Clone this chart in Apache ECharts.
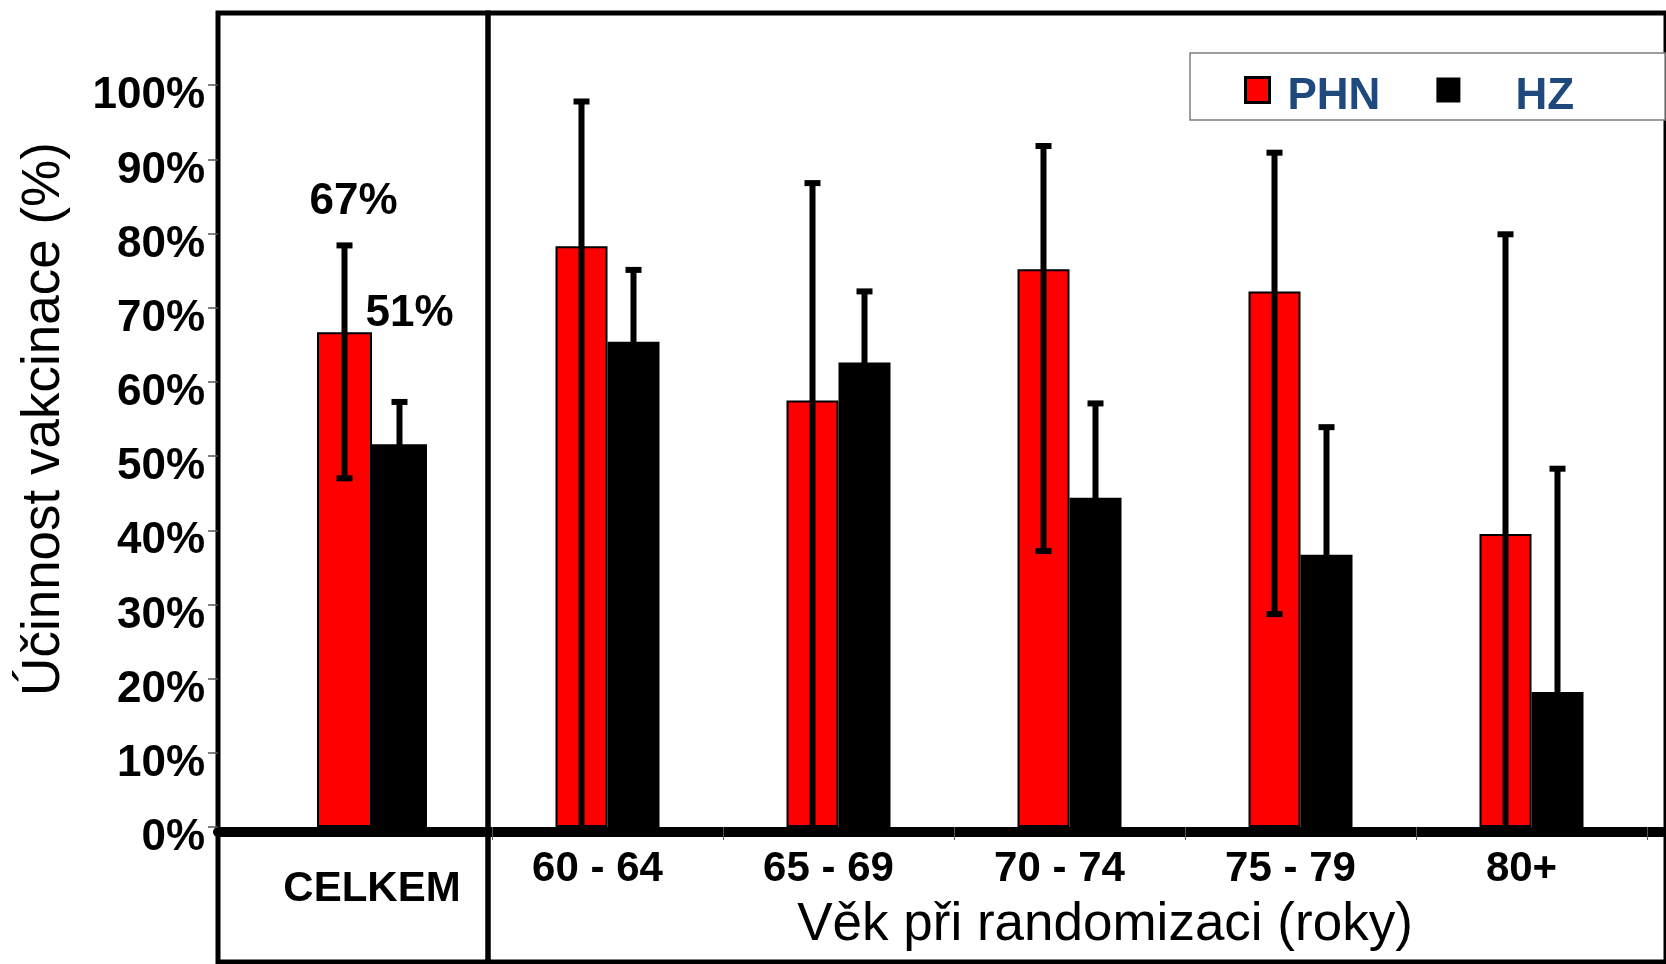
<!DOCTYPE html>
<html>
<head>
<meta charset="utf-8">
<script src="https://cdn.jsdelivr.net/npm/echarts@6/dist/echarts.min.js"></script>
<style>
html,body{margin:0;padding:0;background:#fff;}
#chart{width:1666px;height:964px;}
</style>
</head>
<body>
<div id="chart"></div>
<script>
// ---- data ----
const ageCategories = ['60 - 64', '65 - 69', '70 - 74', '75 - 79', '80+'];
const overallCategory = ['CELKEM'];

const phnByAge     = [78.3, 57.5, 75.2, 72.2, 39.5];
const phnHighByAge = [97.8, 86.8, 91.8, 90.9, 79.9];
const phnLowByAge  = [-25, -30, 37.2, 28.7, -30];

const hzByAge      = [65.4, 62.6, 44.4, 36.7, 18.2];
const hzHighByAge  = [75.1, 72.2, 57.1, 53.9, 48.3];
const hzLowByAge   = [55, 52, 30, 18, -15];

const phnOverall     = [66.7];
const phnHighOverall = [78.4];
const phnLowOverall  = [47.0];
const hzOverall      = [51.6];
const hzHighOverall  = [57.3];
const hzLowOverall   = [44.2];

const phnOverallLabel = ['67%'];
const hzOverallLabel  = ['51%'];

const yTickLabels = ['0%', '10%', '20%', '30%', '40%', '50%', '60%', '70%', '80%', '90%', '100%'];
const yTickValues = [0, 10, 20, 30, 40, 50, 60, 70, 80, 90, 100];

// ---- helpers ----
const FONT = '"Liberation Sans", Arial, sans-serif';
const RED = '#FF0000';
const BLACK = '#000000';

function errTriples(low, high) {
  return low.map((l, i) => [i, l, high[i]]);
}

function errorBars(side, halfWidth) {
  return function (params, api) {
    const c = api.value(0), lo = api.value(1), hi = api.value(2);
    const pHi = api.coord([c, hi]);
    const pLo = api.coord([c, lo]);
    const x = pHi[0] + side * halfWidth;
    const children = [
      { type: 'line', shape: { x1: x, y1: pHi[1], x2: x, y2: pLo[1] }, style: { stroke: '#000', lineWidth: 6 } },
      { type: 'rect', shape: { x: x - 8, y: pHi[1] - 3, width: 16, height: 6 }, style: { fill: '#000' } }
    ];
    if (lo > 0) {
      children.push({ type: 'rect', shape: { x: x - 8, y: pLo[1] - 3, width: 16, height: 6 }, style: { fill: '#000' } });
    }
    return { type: 'group', children: children };
  };
}

const hiddenAxis = (g) => ({ gridIndex: g, show: false });

const valueAxisHidden = (g) => ({
  gridIndex: g, type: 'value', min: 0, max: 110, interval: 10, show: false
});

const chart = echarts.init(document.getElementById('chart'), null, { renderer: 'canvas' });

const option = {
  backgroundColor: '#ffffff',
  animation: false,
  textStyle: { fontFamily: FONT },
  legend: {
    left: 1190, top: 53,
    orient: 'horizontal',
    backgroundColor: '#ffffff',
    borderColor: '#7f7f7f',
    borderWidth: 1.5,
    borderRadius: 0,
    padding: [8.5, 91, 1.5, 54],
    itemWidth: 24,
    itemHeight: 25,
    itemGap: 56,
    icon: 'rect',
    formatter: (name) => '{gap| }\n{t|' + name + '}',
    textStyle: {
      fontFamily: FONT, fontSize: 44, fontWeight: 'bold', color: '#1F497D', lineHeight: 44,
      rich: {
        gap: { fontSize: 1, lineHeight: 13 },
        t: { fontFamily: FONT, fontSize: 44, fontWeight: 'bold', color: '#1F497D', lineHeight: 44 }
      }
    },
    data: [
      { name: 'PHN', itemStyle: { color: RED, borderColor: '#000', borderWidth: 3 }, textStyle: { padding: [0, 0, 0, 13] } },
      { name: 'HZ', itemStyle: { color: BLACK, borderWidth: 0 }, textStyle: { padding: [0, 0, 0, 50] } }
    ]
  },
  grid: [
    { left: 218, top: 11, width: 1500, height: 816 },                 // axis grid
    { left: 256, top: 11, width: 232, height: 816 },                  // CELKEM
    { left: 492, top: 11, width: 1155, height: 816 },                 // age groups
    { left: 218, top: 13, width: 270, height: 949, show: true, borderColor: '#000', borderWidth: 5, backgroundColor: 'transparent' },
    { left: 488, top: 13, width: 1260, height: 949, show: true, borderColor: '#000', borderWidth: 5, backgroundColor: 'transparent' }
  ],
  xAxis: [
    {
      gridIndex: 0, type: 'category', data: [''], offset: 5,
      axisLine: { show: true, onZero: false, lineStyle: { color: '#000', width: 10 } },
      axisTick: { show: false }, axisLabel: { show: false }
    },
    {
      gridIndex: 1, type: 'category', data: overallCategory,
      axisLine: { show: false, onZero: false }, axisTick: { show: false },
      axisLabel: { fontFamily: FONT, fontSize: 42, fontWeight: 'bold', color: '#000', margin: 41, lineHeight: 42 }
    },
    {
      gridIndex: 2, type: 'category', data: ageCategories,
      axisLine: { show: false, onZero: false },
      axisTick: { show: true, length: 13, lineStyle: { color: '#555', width: 1 } },
      axisLabel: { fontFamily: FONT, fontSize: 42, fontWeight: 'bold', color: '#000', margin: 21, lineHeight: 42, padding: [0, 20, 0, 0] },
      name: 'Věk při randomizaci (roky)',
      nameLocation: 'middle',
      nameGap: 72,
      nameTextStyle: { fontFamily: FONT, fontSize: 53, color: '#000', lineHeight: 53, padding: [0, 0, 0, 71] }
    },
    hiddenAxis(3),
    hiddenAxis(4)
  ],
  yAxis: [
    {
      gridIndex: 0, type: 'value', min: 0, max: 110, interval: 10,
      axisLine: { show: false },
      splitLine: { show: false },
      axisTick: { show: true, length: 10, customValues: yTickValues, lineStyle: { color: '#555', width: 1.5 } },
      axisLabel: {
        customValues: yTickValues,
        fontFamily: FONT, fontSize: 44, fontWeight: 'bold', color: '#000', margin: 13,
        verticalAlign: 'top', lineHeight: 22,
        formatter: (v) => { const i = Math.round(v / 10); return i < yTickLabels.length ? yTickLabels[i] : ''; }
      },
      name: 'Účinnost vakcinace (%)',
      nameLocation: 'middle',
      nameGap: 147,
      nameTextStyle: { fontFamily: FONT, fontSize: 53, color: '#000' }
    },
    valueAxisHidden(1),
    valueAxisHidden(2),
    hiddenAxis(3),
    hiddenAxis(4)
  ],
  series: [
    {
      name: 'PHN', type: 'bar', xAxisIndex: 1, yAxisIndex: 1,
      data: phnOverall, barWidth: 55, barGap: '0%',
      itemStyle: { color: RED, borderColor: '#000', borderWidth: 2 },
      label: {
        show: true, position: 'top', distance: 0, offset: [9, -108],
        formatter: (p) => phnOverallLabel[p.dataIndex],
        fontFamily: FONT, fontSize: 44, fontWeight: 'bold', color: '#000', lineHeight: 44
      },
      z: 2
    },
    {
      name: 'HZ', type: 'bar', xAxisIndex: 1, yAxisIndex: 1,
      data: hzOverall, barWidth: 55, barGap: '0%',
      itemStyle: { color: BLACK },
      label: {
        show: true, position: 'top', distance: 0, offset: [10, -108],
        formatter: (p) => hzOverallLabel[p.dataIndex],
        fontFamily: FONT, fontSize: 44, fontWeight: 'bold', color: '#000', lineHeight: 44
      },
      z: 2
    },
    {
      name: 'PHN', type: 'bar', xAxisIndex: 2, yAxisIndex: 2,
      data: phnByAge, barWidth: 52, barGap: '0%',
      itemStyle: { color: RED, borderColor: '#000', borderWidth: 2 },
      z: 2
    },
    {
      name: 'HZ', type: 'bar', xAxisIndex: 2, yAxisIndex: 2,
      data: hzByAge, barWidth: 52, barGap: '0%',
      itemStyle: { color: BLACK },
      z: 2
    },
    {
      name: 'PHN CI', type: 'custom', xAxisIndex: 1, yAxisIndex: 1, clip: true, z: 5,
      renderItem: errorBars(-1, 27.5), encode: { x: 0, y: [1, 2] },
      data: errTriples(phnLowOverall, phnHighOverall)
    },
    {
      name: 'HZ CI', type: 'custom', xAxisIndex: 1, yAxisIndex: 1, clip: true, z: 5,
      renderItem: errorBars(1, 27.5), encode: { x: 0, y: [1, 2] },
      data: errTriples(hzLowOverall, hzHighOverall)
    },
    {
      name: 'PHN CI', type: 'custom', xAxisIndex: 2, yAxisIndex: 2, clip: true, z: 5,
      renderItem: errorBars(-1, 26), encode: { x: 0, y: [1, 2] },
      data: errTriples(phnLowByAge, phnHighByAge)
    },
    {
      name: 'HZ CI', type: 'custom', xAxisIndex: 2, yAxisIndex: 2, clip: true, z: 5,
      renderItem: errorBars(1, 26), encode: { x: 0, y: [1, 2] },
      data: errTriples(hzLowByAge, hzHighByAge)
    }
  ]
};

chart.setOption(option);
</script>
</body>
</html>
